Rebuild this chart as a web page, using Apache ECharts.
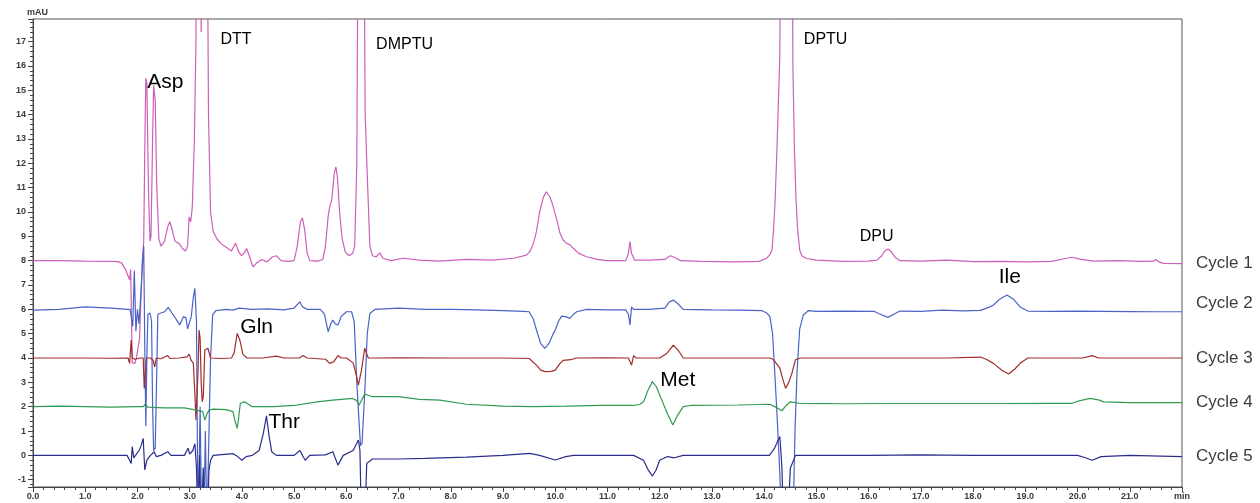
<!DOCTYPE html>
<html>
<head>
<meta charset="utf-8">
<title>Chromatogram</title>
<script src="https://cdn.jsdelivr.net/npm/echarts@6/dist/echarts.min.js"></script>
<style>
  html, body { margin: 0; padding: 0; background: #fff; }
  #chart { width: 1260px; height: 503px; }
</style>
</head>
<body>
<div id="chart"></div>
<script>
// retention time (min), absorbance (mAU)
const cycle1 = [[0,8.0],[0.5,8.0],[1.0,7.98],[1.5,7.97],[1.62,7.96],[1.7,7.9],[1.78,7.6],[1.85,7.2],[1.87,7.65],[1.9,3.8],[1.95,3.78],[1.98,4.0],[2.04,4.8],[2.09,7.9],[2.12,8.8],[2.14,12.5],[2.16,15.5],[2.18,15.3],[2.21,11],[2.24,8.8],[2.26,9.0],[2.29,13],[2.31,15.2],[2.34,14.6],[2.37,11],[2.41,8.9],[2.45,8.6],[2.52,8.8],[2.58,9.4],[2.62,9.6],[2.66,9.3],[2.72,8.8],[2.8,8.7],[2.86,8.5],[2.92,8.4],[2.96,8.6],[2.99,9.8],[3.02,9.6],[3.05,10.2],[3.09,13],[3.12,17],[3.14,25],[3.2,25],[3.22,17.4],[3.24,25],[3.33,25],[3.36,14],[3.4,10.0],[3.45,9.2],[3.52,8.9],[3.6,8.7],[3.7,8.55],[3.8,8.4],[3.88,8.72],[3.93,8.4],[3.99,8.2],[4.04,8.3],[4.09,8.5],[4.14,8.2],[4.21,7.75],[4.28,7.9],[4.38,8.05],[4.48,7.95],[4.58,8.15],[4.66,8.2],[4.75,8.0],[4.88,7.97],[5.0,8.0],[5.06,8.6],[5.12,9.6],[5.16,9.75],[5.2,9.3],[5.25,8.3],[5.3,8.0],[5.45,7.98],[5.55,8.05],[5.6,8.6],[5.65,9.8],[5.68,10.2],[5.72,10.5],[5.77,11.6],[5.8,11.85],[5.83,11.4],[5.87,10.0],[5.92,8.9],[5.98,8.35],[6.05,8.2],[6.12,8.3],[6.16,8.6],[6.2,12],[6.23,25],[6.33,25],[6.36,14],[6.39,12.1],[6.45,8.6],[6.5,8.2],[6.57,8.15],[6.64,8.32],[6.7,8.1],[6.85,8.0],[7.09,8.1],[7.4,8.02],[7.79,7.98],[8.3,8.05],[8.8,8.02],[9.2,8.1],[9.45,8.23],[9.52,8.4],[9.58,8.7],[9.64,9.2],[9.7,10.0],[9.77,10.6],[9.83,10.83],[9.9,10.6],[9.95,10.3],[10.0,9.9],[10.05,9.5],[10.09,9.13],[10.15,8.85],[10.22,8.71],[10.28,8.65],[10.35,8.5],[10.45,8.3],[10.6,8.16],[10.8,8.05],[11.0,8.0],[11.35,8.0],[11.4,8.3],[11.43,8.78],[11.46,8.3],[11.52,8.02],[11.8,8.02],[12.1,8.05],[12.2,8.2],[12.3,8.12],[12.4,8.0],[12.8,7.97],[13.4,7.95],[13.9,7.97],[14.05,8.1],[14.11,8.25],[14.15,8.44],[14.18,9.3],[14.21,10.5],[14.24,12.3],[14.27,14.33],[14.3,16.5],[14.32,25],[14.53,25],[14.55,16],[14.58,12.5],[14.61,10.5],[14.64,9.3],[14.68,8.44],[14.72,8.2],[14.8,8.1],[15.0,8.02],[15.5,7.97],[16.0,7.98],[16.16,8.02],[16.25,8.2],[16.31,8.4],[16.37,8.48],[16.43,8.38],[16.5,8.15],[16.6,8.0],[17.0,7.98],[17.5,8.02],[18.0,7.96],[18.5,7.97],[19.0,7.95],[19.5,7.97],[19.75,8.08],[19.89,8.14],[20.05,8.06],[20.3,7.98],[20.8,8.0],[21.2,7.97],[21.45,7.98],[21.5,8.05],[21.55,7.95],[21.65,7.89],[22,7.88]];

const cycle2 = [[0,5.97],[0.5,6.0],[1.0,6.1],[1.5,6.05],[1.8,6.0],[1.86,6.0],[1.88,6.05],[1.91,5.3],[1.94,7.6],[1.97,5.1],[2.0,6.0],[2.03,5.4],[2.07,6.8],[2.1,8.0],[2.12,8.6],[2.14,4.5],[2.16,1.2],[2.18,4.0],[2.2,5.8],[2.24,5.85],[2.27,5.5],[2.29,2.0],[2.31,0.2],[2.34,0.3],[2.37,3.5],[2.39,5.8],[2.45,5.85],[2.52,5.9],[2.59,6.08],[2.66,5.85],[2.74,5.6],[2.81,5.36],[2.86,5.6],[2.88,5.7],[2.93,5.65],[2.96,5.2],[2.99,5.15],[3.03,5.7],[3.07,6.5],[3.1,6.86],[3.13,5.5],[3.16,-3],[3.2,2.0],[3.23,-3],[3.27,-3],[3.3,1.0],[3.33,-3],[3.36,-3],[3.4,4.0],[3.44,5.77],[3.5,5.95],[3.7,6.0],[3.83,5.97],[3.95,6.05],[4.2,6.0],[4.5,6.02],[4.8,5.98],[5.0,6.05],[5.06,6.2],[5.11,6.31],[5.16,6.1],[5.25,6.0],[5.5,6.0],[5.58,5.8],[5.65,5.08],[5.7,5.4],[5.74,5.56],[5.79,5.4],[5.84,5.36],[5.9,5.7],[6.0,5.9],[6.1,5.9],[6.15,5.5],[6.2,3.0],[6.23,1.86],[6.27,0.4],[6.3,0.5],[6.35,2.5],[6.4,5.0],[6.45,5.83],[6.55,6.0],[7.0,6.05],[7.5,6.0],[8.0,6.0],[8.5,5.98],[9.0,5.95],[9.4,5.92],[9.5,5.9],[9.58,5.6],[9.64,5.15],[9.72,4.6],[9.8,4.4],[9.88,4.6],[9.95,4.95],[10.0,5.15],[10.06,5.5],[10.12,5.72],[10.2,5.7],[10.28,5.63],[10.35,5.8],[10.41,5.9],[10.6,6.0],[11.0,5.98],[11.35,5.98],[11.4,5.8],[11.43,5.36],[11.46,6.1],[11.5,6.0],[11.8,6.0],[12.1,6.05],[12.18,6.3],[12.26,6.38],[12.34,6.25],[12.45,6.0],[13.0,5.98],[13.5,5.97],[13.95,5.95],[14.05,5.85],[14.11,5.7],[14.16,5.0],[14.2,3.5],[14.25,1.5],[14.3,-0.8],[14.34,-3],[14.55,-3],[14.59,1.0],[14.63,3.5],[14.68,5.2],[14.75,5.77],[14.85,5.95],[15.0,5.92],[15.5,5.93],[16.1,5.92],[16.2,5.82],[16.37,5.67],[16.5,5.82],[16.6,5.93],[17.0,5.92],[17.4,5.97],[17.8,5.94],[18.14,5.96],[18.3,6.08],[18.39,6.18],[18.5,6.4],[18.65,6.59],[18.78,6.4],[18.9,6.1],[19.05,5.93],[19.5,5.92],[20.0,5.93],[20.5,5.92],[21.0,5.91],[21.5,5.9],[22,5.9]];

const cycle3 = [[0,4.0],[0.5,4.0],[1.0,4.0],[1.5,3.99],[1.82,4.0],[1.85,3.78],[1.88,4.74],[1.9,4.0],[1.95,3.95],[2.05,4.0],[2.11,4.0],[2.13,2.75],[2.15,2.8],[2.17,4.0],[2.25,4.0],[2.3,3.9],[2.33,3.64],[2.36,4.0],[2.45,3.97],[2.58,4.1],[2.62,3.98],[2.8,4.0],[2.95,4.05],[2.99,4.16],[3.03,3.9],[3.07,3.78],[3.1,2.5],[3.12,1.45],[3.14,1.5],[3.16,3.5],[3.18,5.15],[3.2,4.8],[3.22,3.0],[3.24,2.2],[3.26,2.4],[3.29,4.33],[3.35,4.4],[3.4,4.0],[3.6,3.98],[3.8,4.0],[3.85,4.2],[3.91,5.01],[3.96,4.74],[4.02,4.15],[4.1,4.0],[4.4,4.0],[4.66,4.08],[4.8,4.0],[5.1,4.0],[5.17,4.1],[5.25,4.0],[5.6,3.95],[5.68,3.78],[5.76,3.85],[5.84,4.1],[5.9,4.0],[6.0,4.0],[6.13,3.8],[6.19,3.3],[6.23,2.89],[6.29,3.5],[6.35,4.4],[6.42,4.0],[6.6,4.0],[7.0,4.01],[8.0,4.0],[9.0,4.0],[9.5,3.98],[9.64,3.71],[9.72,3.5],[9.8,3.44],[9.92,3.45],[10.0,3.5],[10.08,3.75],[10.15,3.9],[10.3,3.93],[10.4,4.0],[11.0,4.01],[11.4,4.0],[11.46,3.71],[11.5,4.1],[11.55,4.0],[12.0,4.0],[12.14,4.2],[12.26,4.53],[12.36,4.3],[12.45,4.0],[13.0,4.0],[14.1,4.0],[14.17,3.95],[14.3,3.58],[14.36,3.1],[14.41,2.75],[14.47,3.0],[14.53,3.37],[14.6,3.93],[14.7,4.0],[15.5,4.0],[16.5,4.0],[17.5,4.0],[18.14,4.04],[18.25,3.95],[18.39,3.78],[18.55,3.5],[18.68,3.34],[18.8,3.55],[18.9,3.78],[19.05,4.0],[19.5,4.0],[20.1,4.0],[20.28,4.1],[20.4,4.0],[21.0,4.0],[22,4.0]];

const cycle4 = [[0,2.0],[0.5,2.02],[1.0,2.0],[1.5,1.98],[2.0,2.0],[2.11,2.0],[2.15,2.1],[2.2,1.98],[2.5,1.95],[2.9,1.95],[3.13,1.86],[3.25,1.8],[3.29,1.45],[3.33,1.7],[3.37,1.86],[3.45,1.9],[3.7,1.88],[3.83,1.8],[3.87,1.4],[3.91,1.11],[3.94,1.6],[3.97,2.14],[4.05,2.2],[4.2,2.0],[4.6,2.0],[5.0,2.05],[5.44,2.2],[5.74,2.27],[6.12,2.34],[6.2,2.25],[6.24,2.05],[6.3,2.3],[6.35,2.52],[6.5,2.41],[7.0,2.41],[7.4,2.3],[7.79,2.27],[8.3,2.1],[9.0,2.02],[9.58,2.0],[10.2,2.02],[10.86,2.05],[11.5,2.05],[11.62,2.1],[11.69,2.2],[11.78,2.7],[11.86,3.03],[11.94,2.8],[12.04,2.27],[12.15,1.7],[12.25,1.25],[12.33,1.6],[12.45,2.0],[12.6,2.05],[13.5,2.07],[14.11,2.1],[14.25,1.95],[14.34,1.83],[14.42,2.05],[14.5,2.2],[14.68,2.14],[15.5,2.12],[16.5,2.13],[17.5,2.13],[18.5,2.13],[19.5,2.14],[19.89,2.14],[20.05,2.25],[20.24,2.34],[20.4,2.28],[20.5,2.2],[21.0,2.17],[22,2.17]];

const cycle5 = [[0,0.0],[0.5,0.0],[1.0,0.0],[1.5,0.0],[1.8,0.0],[1.85,-0.2],[1.88,-0.33],[1.9,0.36],[1.93,-0.1],[1.98,0.05],[2.03,0.2],[2.07,0.4],[2.11,0.7],[2.14,-0.6],[2.18,-0.2],[2.25,0.0],[2.32,0.15],[2.36,-0.05],[2.45,0.0],[2.58,0.15],[2.64,0.0],[2.9,0.0],[2.97,0.3],[3.0,0.05],[3.06,0.2],[3.1,0.48],[3.13,-0.5],[3.16,-3],[3.19,0.0],[3.22,-3],[3.26,-0.5],[3.29,-3],[3.33,-3],[3.37,-0.6],[3.4,-0.2],[3.45,0.0],[3.83,0.07],[3.92,-0.05],[4.0,-0.2],[4.08,-0.05],[4.2,0.0],[4.33,0.2],[4.41,0.9],[4.47,1.62],[4.52,0.8],[4.57,0.15],[4.66,0.0],[5.0,0.0],[5.11,0.2],[5.21,-0.2],[5.3,0.0],[5.6,0.02],[5.74,0.15],[5.84,-0.4],[5.94,0.0],[6.13,0.2],[6.2,0.5],[6.23,0.63],[6.26,0.2],[6.29,-3],[6.35,-3],[6.39,-0.33],[6.5,-0.15],[7.0,-0.15],[7.5,-0.12],[8.3,-0.07],[9.0,0.0],[9.51,0.08],[9.7,0.0],[10.0,-0.19],[10.2,-0.05],[10.35,0.0],[11.0,0.0],[11.5,0.0],[11.69,-0.2],[11.78,-0.6],[11.86,-0.85],[11.93,-0.6],[12.0,-0.2],[12.15,-0.05],[12.28,-0.1],[12.45,0.0],[13.0,0.0],[14.1,0.0],[14.2,0.3],[14.3,0.77],[14.34,-0.5],[14.37,-3],[14.45,-3],[14.5,-0.53],[14.6,0.0],[15.0,0.0],[16.0,0.0],[17.0,0.02],[18.0,0.0],[19.0,0.0],[20.0,0.0],[20.15,-0.1],[20.28,-0.2],[20.45,-0.05],[21.0,0.0],[22,-0.05]];

const cycleNames = ['Cycle 1', 'Cycle 2', 'Cycle 3', 'Cycle 4', 'Cycle 5'];
const cycleColors = ['#cc5fb8', '#4a63c4', '#a02c2c', '#2f9a50', '#2a2d8c'];

// amino acid peak labels (left edge time, value)
const aminoNames = ['Asp', 'Gln', 'Thr', 'Met', 'Ile'];
const aminoTimes = [2.18, 3.96, 4.5, 12.0, 18.48];
const aminoValues = [15.34, 5.28, 1.37, 3.1, 7.33];

// reagent / by-product labels
const reagentNames = ['DTT', 'DMPTU', 'DPTU', 'DPU'];
const reagentTimes = [3.58, 6.56, 14.75, 15.82];
const reagentValues = [17.07, 16.86, 17.07, 8.97];

const xMin = 0, xMax = 22;
const yMin = -1.3, yMax = 17.93;

const chart = echarts.init(document.getElementById('chart'));

const isWhole = v => Math.abs(v - Math.round(v)) < 1e-6;
const axisFont = 'Liberation Sans, Arial, sans-serif';

const lineSeries = [cycle1, cycle2, cycle3, cycle4, cycle5].map((d, i) => ({
  name: cycleNames[i],
  type: 'line',
  data: d,
  symbol: 'none',
  lineStyle: { color: cycleColors[i], width: 1.2 },
  itemStyle: { color: cycleColors[i] },
  clip: true,
  endLabel: {
    show: true,
    formatter: cycleNames[i],
    color: '#3c3c3c',
    fontSize: 17,
    fontFamily: axisFont,
    distance: 14,
    offset: i === 1 ? [0, -8] : [0, 0]
  },
  z: 2 + i
}));

// text labels pinned to data coordinates
const labelSeries = (names, times, values, size) => ({
  type: 'scatter',
  data: names.map((n, i) => ({ name: n, value: [times[i], values[i]] })),
  symbolSize: 1,
  itemStyle: { color: 'rgba(0,0,0,0)' },
  clip: false,
  silent: true,
  label: {
    show: true,
    position: 'right',
    distance: 0,
    formatter: p => p.name,
    color: '#000',
    opacity: 1,
    fontSize: size,
    fontFamily: axisFont
  },
  z: 10
});

const option = {
  animation: false,
  backgroundColor: '#fff',
  grid: {
    left: 33, right: 78, top: 19, bottom: 16,
    show: true, borderColor: '#555', borderWidth: 1, backgroundColor: 'transparent'
  },
  xAxis: {
    type: 'value',
    min: xMin, max: xMax, interval: 1,
    axisLine: { show: true, onZero: false, lineStyle: { color: '#444' } },
    axisTick: { show: true, length: 5, lineStyle: { color: '#444' } },
    minorTick: { show: true, splitNumber: 5, length: 3, lineStyle: { color: '#444' } },
    splitLine: { show: false },
    axisLabel: {
      margin: 5, fontSize: 9, fontWeight: 'bold', color: '#3a3a3a',
      fontFamily: axisFont,
      showMaxLabel: true,
      formatter: v => (v >= xMax - 1e-6 ? 'min' : v.toFixed(1))
    }
  },
  yAxis: {
    type: 'value',
    min: yMin, max: yMax,
    minInterval: 1, maxInterval: 1, splitNumber: 19,
    axisLine: { show: true, onZero: false, lineStyle: { color: '#444' } },
    axisTick: { show: true, length: 5, lineStyle: { color: '#444' } },
    minorTick: { show: true, splitNumber: 5, length: 3, lineStyle: { color: '#444' } },
    splitLine: { show: false },
    axisLabel: {
      margin: 7, fontSize: 9, fontWeight: 'bold', color: '#3a3a3a',
      fontFamily: axisFont,
      formatter: v => (isWhole(v) ? String(Math.round(v)) : '')
    }
  },
  graphic: [{
    type: 'text', left: 27, top: 8,
    style: { text: 'mAU', fontSize: 9, fontWeight: 'bold', fill: '#3a3a3a', fontFamily: axisFont }
  }],
  series: [
    ...lineSeries,
    labelSeries(aminoNames, aminoTimes, aminoValues, 21),
    labelSeries(reagentNames, reagentTimes, reagentValues, 16)
  ]
};

chart.setOption(option);
</script>
</body>
</html>
